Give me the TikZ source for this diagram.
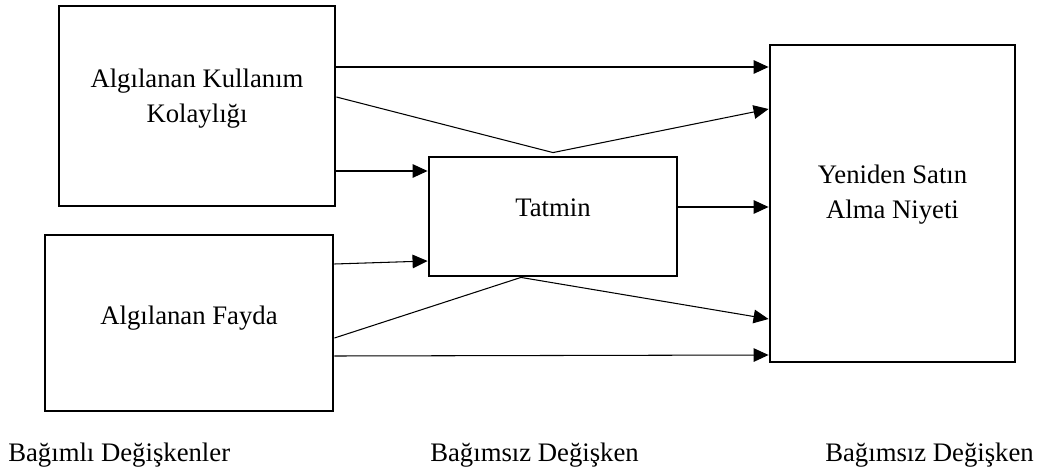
\documentclass[tikz,border=0pt]{standalone}
\usepackage{fontspec}
\setmainfont{Liberation Serif}
\usepackage{tikz}
\usetikzlibrary{arrows.meta}

\begin{document}
\begin{tikzpicture}[x=0.025cm,y=-0.025cm,
        font=\fontsize{19}{25}\selectfont,
        kutu/.style={draw,line width=2pt,inner sep=0pt},
        metin/.style={align=center,inner sep=0pt},
        ok/.style={line width=0.75pt,-{Triangle[length=0.375cm,width=0.34cm]}}]
        % Modelo: variables independientes, mediadora y dependiente
        \useasboundingbox (0,0) rectangle (1040,472);

        \node[kutu,minimum width=6.9cm,minimum height=5cm] (kolay) at (197,106) {};
        \node[kutu,minimum width=7.2cm,minimum height=4.4cm] (fayda) at (189,323) {};
        \node[kutu,minimum width=6.2cm,minimum height=2.975cm] (tatmin) at (553,216.5) {};
        \node[kutu,minimum width=6.125cm,minimum height=7.925cm] (niyet) at (892.5,203.5) {};

        \node[metin,yshift=0.175cm] (kolaymetin) at (kolay) {Algılanan Kullanım\\Kolaylığı};
        \node[metin,yshift=0.125cm] (faydametin) at (fayda) {Algılanan Fayda};
        \node[metin,yshift=0.225cm] (tatminmetin) at (tatmin) {Tatmin};
        \node[metin,yshift=0.225cm] (niyetmetin) at (niyet) {Yeniden Satın\\Alma Niyeti};

        \coordinate (tepe) at ([yshift=0.075cm]tatmin.north);
        \coordinate (dip) at ([xshift=-0.8cm]tatmin.south);

        \draw[ok] (kolay.east |- 0,67) -- (niyet.west |- 0,67);
        \draw[ok] (kolay.east |- 0,97) -- (tepe) -- (niyet.west |- 0,109);
        \draw[ok] (kolay.east |- 0,171) -- (tatmin.west |- 0,171);
        \draw[ok] (tatmin.east |- 0,207) -- (niyet.west |- 0,207);
        \draw[ok] (fayda.east |- 0,264) -- (tatmin.west |- 0,261);
        \draw[ok] (fayda.east |- 0,338) -- (dip) -- (niyet.west |- 0,319);
        \draw[ok] (fayda.east |- 0,356) -- (niyet.west |- 0,355);

        \node[anchor=base west,inner sep=0pt] (bagimli) at (8,461) {Bağımlı Değişkenler};
        \node[anchor=base west,inner sep=0pt] (bagimsiz) at (430,461) {Bağımsız Değişken};
        \node[anchor=base west,inner sep=0pt] (bagimsiz2) at (825,461) {Bağımsız Değişken};
    \end{tikzpicture}
\end{document}
